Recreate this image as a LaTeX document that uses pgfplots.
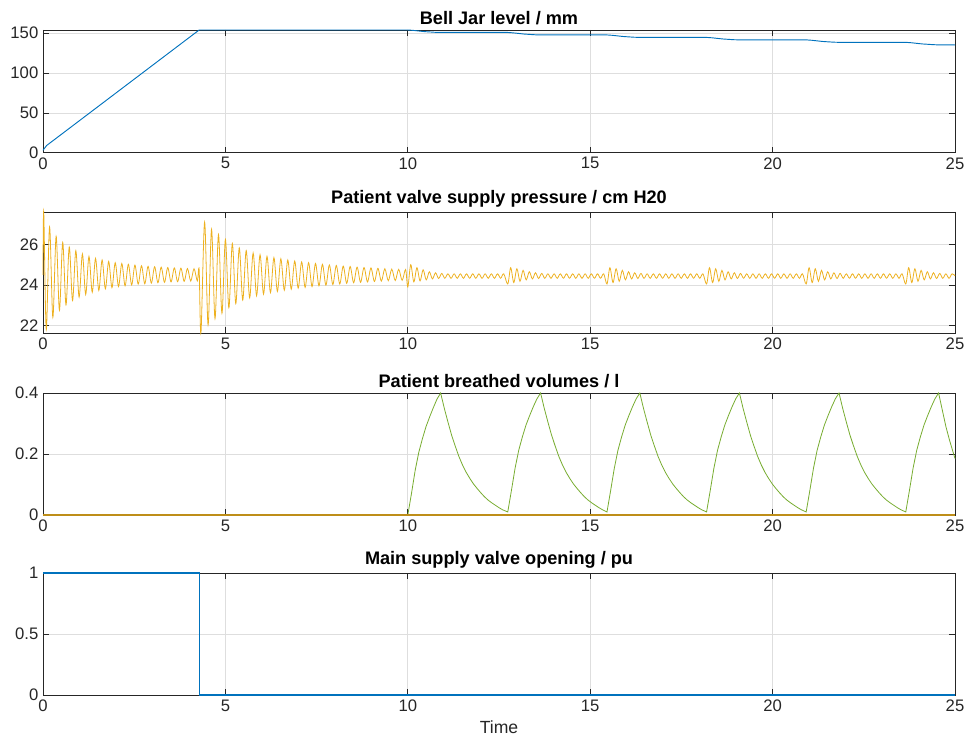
\documentclass[border=0pt]{standalone}
\usepackage{fontspec}
\setmainfont{Liberation Sans}
\usepackage{pgfplots}
\pgfplotsset{compat=1.18}

\definecolor{mblue}{RGB}{0,114,189}
\definecolor{myellow}{RGB}{237,177,32}
\definecolor{mgreen}{RGB}{119,172,48}
\definecolor{maxis}{RGB}{38,38,38}

\pgfplotsset{
  panel/.style={
    set layers=standard,
    every axis plot/.append style={on layer=axis foreground},
    width=684pt, scale only axis,
    xmin=0, xmax=25, xtick={0,5,10,15,20,25},
    grid=major, major grid style={black!13, line width=0.5pt},
    axis line style={maxis, line width=0.5pt},
    tick align=inside, major tick length=4.5pt,
    tick style={maxis, line width=0.5pt},
    ticklabel style={font=\fontsize{12.5}{14}\selectfont, text=maxis},
    /pgf/number format/assume math mode=true,
    title style={font=\fontsize{13.6}{15}\selectfont\bfseries, yshift=-6pt},
    label style={font=\fontsize{13.2}{15}\selectfont, text=maxis},
    anchor=north west,
  },
}

\begin{document}
\begin{tikzpicture}

% Bell jar level
\begin{axis}[panel, name=p1, at={(0,0)}, height=92pt, clip=false,
  ymin=0, ymax=154, ytick={0,50,100,150},
  title={Bell Jar level / mm}]
\coordinate (tl) at (rel axis cs:0,1);
\addplot[mblue, line width=0.7pt] coordinates {
(0,3) (0.1,9) (4.28,154) (10.0,154) (10.15,153.5) (10.45,152) (10.75,151.1) (10.9,150.9)
(12.74,150.9) (12.89,150.4) (13.19,148.9) (13.49,148) (13.64,147.8)
(15.46,147.8) (15.61,147.3) (15.91,145.8) (16.21,144.9) (16.36,144.7)
(18.19,144.7) (18.34,144.2) (18.64,142.7) (18.94,141.8) (19.09,141.6)
(20.92,141.6) (21.07,141.1) (21.37,139.6) (21.67,138.7) (21.82,138.5)
(23.65,138.5) (23.8,138) (24.1,136.5) (24.4,135.6) (24.55,135.3) (25,135.2)
};
\end{axis}

% Patient valve supply pressure
\begin{axis}[panel, name=p2, at={(0,-136.5pt)}, height=90.75pt, clip=true,
  ymin=21.63, ymax=27.6, ytick={22,24,26},
  title={Patient valve supply pressure / cm H20}]
\addplot[myellow, line width=0.6pt, smooth, tension=0.55] coordinates {
(0,24.5) (0.02,27.6) (0.09,21.8) (0.18,26.86) (0.27,22.4) (0.36,26.4) (0.45,22.75)
(0.54,26.1) (0.63,23.02) (0.72,25.87) (0.81,23.23) (0.9,25.69) (0.99,23.4)
(1.08,25.53) (1.17,23.53) (1.26,25.41) (1.35,23.64) (1.44,25.31) (1.53,23.73)
(1.62,25.23) (1.71,23.81) (1.8,25.16) (1.89,23.87) (1.98,25.1) (2.07,23.92)
(2.16,25.06) (2.25,23.96) (2.34,25.02) (2.43,24.0) (2.52,24.98) (2.61,24.04)
(2.7,24.95) (2.79,24.06) (2.88,24.92) (2.97,24.09) (3.06,24.9) (3.15,24.11)
(3.24,24.88) (3.33,24.13) (3.42,24.86) (3.51,24.15) (3.6,24.84) (3.69,24.16)
(3.78,24.83) (3.87,24.18) (3.96,24.81) (4.05,24.19) (4.14,24.8) (4.23,24.2)
(4.28,24.75) (4.33,21.63)
(4.43,27.1) (4.525,22.03) (4.62,26.75) (4.715,22.33) (4.81,26.49) (4.905,22.6)
(5.0,26.25) (5.095,22.88) (5.19,26.05) (5.285,23.08) (5.38,25.83) (5.475,23.25)
(5.57,25.7) (5.665,23.36) (5.76,25.58) (5.855,23.47) (5.95,25.49) (6.045,23.55)
(6.14,25.41) (6.235,23.62) (6.33,25.35) (6.425,23.68) (6.52,25.29) (6.615,23.74)
(6.71,25.23) (6.805,23.79) (6.9,25.18) (6.995,23.84) (7.09,25.14) (7.185,23.88)
(7.28,25.1) (7.375,23.92) (7.47,25.06) (7.565,23.96) (7.66,25.02) (7.755,23.99)
(7.85,24.99) (7.945,24.02) (8.04,24.96) (8.135,24.05) (8.23,24.93) (8.325,24.08)
(8.42,24.91) (8.515,24.11) (8.61,24.88) (8.705,24.13) (8.8,24.86) (8.895,24.15)
(8.99,24.84) (9.085,24.17) (9.18,24.82) (9.275,24.19) (9.37,24.8) (9.465,24.21)
(9.56,24.78) (9.655,24.22) (9.75,24.77) (9.845,24.23) (9.94,24.76)
(10.0,23.9) (10.08,25.0) (10.165,24.15) (10.25,24.85) (10.335,24.2) (10.42,24.75)
(10.505,24.25) (10.59,24.65) (10.675,24.3) (10.76,24.6) (10.845,24.32) (10.93,24.57)
(11.015,24.33) (11.1,24.55) (11.185,24.33) (11.27,24.55) (11.355,24.33) (11.44,24.55)
(11.525,24.33) (11.61,24.55) (11.695,24.33) (11.78,24.55) (11.865,24.33) (11.95,24.55)
(12.035,24.33) (12.12,24.55) (12.205,24.33) (12.29,24.55) (12.375,24.33) (12.46,24.55)
(12.545,24.33) (12.63,24.55)
(12.74,24.05) (12.82,24.85) (12.905,24.12) (12.99,24.8) (13.075,24.18) (13.16,24.72)
(13.245,24.25) (13.33,24.65) (13.415,24.3) (13.5,24.6) (13.585,24.32) (13.67,24.57)
(13.755,24.33) (13.84,24.55) (13.925,24.33) (14.01,24.55) (14.095,24.33) (14.18,24.55)
(14.265,24.33) (14.35,24.55) (14.435,24.33) (14.52,24.55) (14.605,24.33) (14.69,24.55)
(14.775,24.33) (14.86,24.55) (14.945,24.33) (15.03,24.55) (15.115,24.33) (15.2,24.55)
(15.285,24.33) (15.37,24.55)
(15.46,24.05) (15.54,24.85) (15.625,24.12) (15.71,24.8) (15.795,24.18) (15.88,24.72)
(15.965,24.25) (16.05,24.65) (16.135,24.3) (16.22,24.6) (16.305,24.32) (16.39,24.57)
(16.475,24.33) (16.56,24.55) (16.645,24.33) (16.73,24.55) (16.815,24.33) (16.9,24.55)
(16.985,24.33) (17.07,24.55) (17.155,24.33) (17.24,24.55) (17.325,24.33) (17.41,24.55)
(17.495,24.33) (17.58,24.55) (17.665,24.33) (17.75,24.55) (17.835,24.33) (17.92,24.55)
(18.005,24.33) (18.09,24.55)
(18.19,24.05) (18.27,24.85) (18.355,24.12) (18.44,24.8) (18.525,24.18) (18.61,24.72)
(18.695,24.25) (18.78,24.65) (18.865,24.3) (18.95,24.6) (19.035,24.32) (19.12,24.57)
(19.205,24.33) (19.29,24.55) (19.375,24.33) (19.46,24.55) (19.545,24.33) (19.63,24.55)
(19.715,24.33) (19.8,24.55) (19.885,24.33) (19.97,24.55) (20.055,24.33) (20.14,24.55)
(20.225,24.33) (20.31,24.55) (20.395,24.33) (20.48,24.55) (20.565,24.33) (20.65,24.55)
(20.735,24.33) (20.82,24.55)
(20.92,24.05) (21.0,24.85) (21.085,24.12) (21.17,24.8) (21.255,24.18) (21.34,24.72)
(21.425,24.25) (21.51,24.65) (21.595,24.3) (21.68,24.6) (21.765,24.32) (21.85,24.57)
(21.935,24.33) (22.02,24.55) (22.105,24.33) (22.19,24.55) (22.275,24.33) (22.36,24.55)
(22.445,24.33) (22.53,24.55) (22.615,24.33) (22.7,24.55) (22.785,24.33) (22.87,24.55)
(22.955,24.33) (23.04,24.55) (23.125,24.33) (23.21,24.55) (23.295,24.33) (23.38,24.55)
(23.465,24.33) (23.55,24.55)
(23.65,24.05) (23.73,24.85) (23.815,24.12) (23.9,24.8) (23.985,24.18) (24.07,24.72)
(24.155,24.25) (24.24,24.65) (24.325,24.3) (24.41,24.6) (24.495,24.32) (24.58,24.57)
(24.665,24.33) (24.75,24.55) (24.835,24.33) (24.92,24.55) (25.0,24.45)
};
\end{axis}

% Patient breathed volumes
\begin{axis}[panel, name=p3, at={(0,-272.25pt)}, height=91.5pt, clip=false,
  ymin=0, ymax=0.4, ytick={0,0.2,0.4},
  title={Patient breathed volumes / l}]
\addplot[mgreen, line width=0.6pt] coordinates {
(0,0) (10.0,0) (10.1,0.07) (10.2,0.145) (10.3,0.205) (10.4,0.25) (10.5,0.29) (10.6,0.322)
(10.7,0.352) (10.8,0.38) (10.9,0.4)
(11.0,0.35) (11.1,0.305) (11.2,0.262) (11.3,0.226) (11.4,0.192) (11.5,0.164) (11.6,0.14)
(11.7,0.12) (11.8,0.102) (11.9,0.087) (12.0,0.073) (12.1,0.06) (12.2,0.049) (12.3,0.04)
(12.4,0.032) (12.5,0.024) (12.6,0.017) (12.74,0.01)
(12.84,0.08) (12.94,0.153) (13.04,0.212) (13.14,0.256) (13.24,0.295) (13.34,0.326)
(13.44,0.355) (13.54,0.381) (13.64,0.4)
(13.74,0.35) (13.84,0.305) (13.94,0.262) (14.04,0.226) (14.14,0.192) (14.24,0.164)
(14.34,0.14) (14.44,0.12) (14.54,0.102) (14.64,0.087) (14.74,0.073) (14.84,0.06)
(14.94,0.049) (15.04,0.04) (15.14,0.032) (15.24,0.024) (15.34,0.017) (15.46,0.01)
(15.56,0.08) (15.66,0.153) (15.76,0.212) (15.86,0.256) (15.96,0.295) (16.06,0.326)
(16.16,0.355) (16.26,0.381) (16.36,0.4)
(16.46,0.35) (16.56,0.305) (16.66,0.262) (16.76,0.226) (16.86,0.192) (16.96,0.164)
(17.06,0.14) (17.16,0.12) (17.26,0.102) (17.36,0.087) (17.46,0.073) (17.56,0.06)
(17.66,0.049) (17.76,0.04) (17.86,0.032) (17.96,0.024) (18.06,0.017) (18.19,0.01)
(18.29,0.08) (18.39,0.153) (18.49,0.212) (18.59,0.256) (18.69,0.295) (18.79,0.326)
(18.89,0.355) (18.99,0.381) (19.09,0.4)
(19.19,0.35) (19.29,0.305) (19.39,0.262) (19.49,0.226) (19.59,0.192) (19.69,0.164)
(19.79,0.14) (19.89,0.12) (19.99,0.102) (20.09,0.087) (20.19,0.073) (20.29,0.06)
(20.39,0.049) (20.49,0.04) (20.59,0.032) (20.69,0.024) (20.79,0.017) (20.92,0.01)
(21.02,0.08) (21.12,0.153) (21.22,0.212) (21.32,0.256) (21.42,0.295) (21.52,0.326)
(21.62,0.355) (21.72,0.381) (21.82,0.4)
(21.92,0.35) (22.02,0.305) (22.12,0.262) (22.22,0.226) (22.32,0.192) (22.42,0.164)
(22.52,0.14) (22.62,0.12) (22.72,0.102) (22.82,0.087) (22.92,0.073) (23.02,0.06)
(23.12,0.049) (23.22,0.04) (23.32,0.032) (23.42,0.024) (23.52,0.017) (23.65,0.01)
(23.75,0.08) (23.85,0.153) (23.95,0.212) (24.05,0.256) (24.15,0.295) (24.25,0.326)
(24.35,0.355) (24.45,0.381) (24.55,0.4)
(24.65,0.345) (24.75,0.29) (24.85,0.245) (25.0,0.185)
};
\addplot[myellow!80!black, line width=0.8pt] coordinates {(0,0) (25,0)};
\end{axis}

% Main supply valve opening
\begin{axis}[panel, name=p4, at={(0,-407.25pt)}, height=91.5pt, clip=false,
  ymin=0, ymax=1, ytick={0,0.5,1},
  title={Main supply valve opening / pu},
  xlabel={Time}]
\coordinate (br) at (rel axis cs:1,0);
\addplot[mblue, line width=0.8pt] coordinates {
(0,1) (4.28,1) (4.28,0) (25,0)
};
\end{axis}

\pgfresetboundingbox
\path ([xshift=-32.25pt,yshift=22.5pt]tl) rectangle ([xshift=10.5pt,yshift=-36.75pt]br);
\end{tikzpicture}
\end{document}
